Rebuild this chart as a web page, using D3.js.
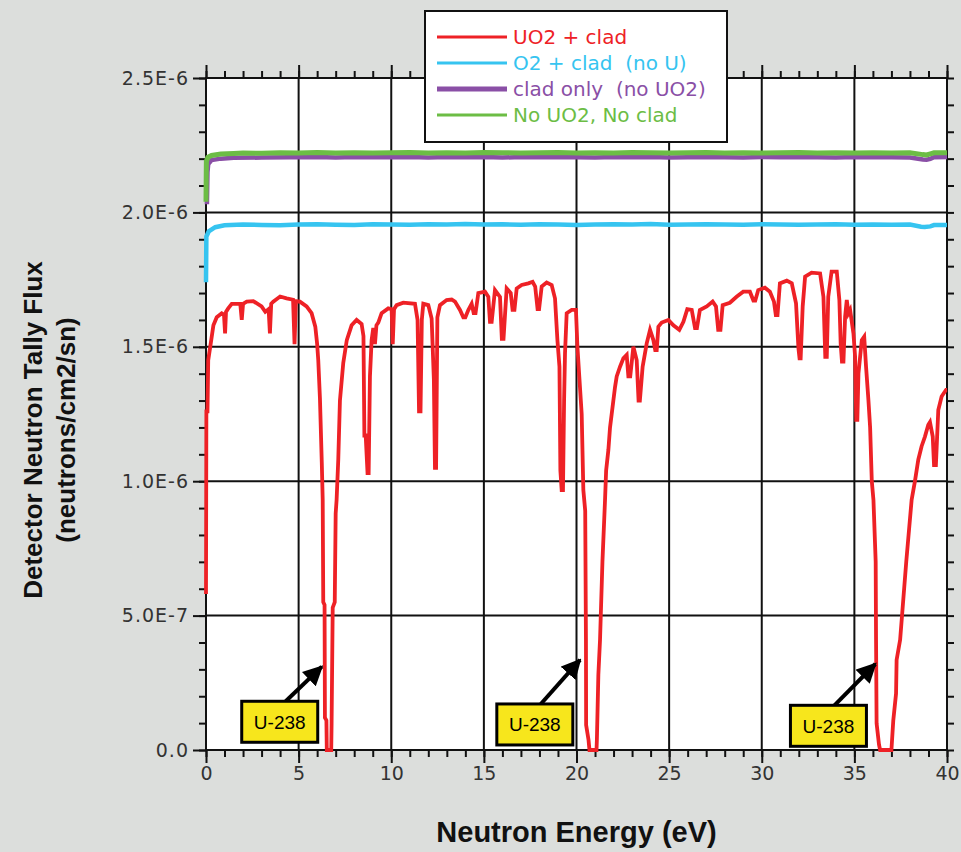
<!DOCTYPE html>
<html>
<head>
<meta charset="utf-8">
<script src="https://cdn.jsdelivr.net/npm/d3@7"></script>
<style>
  html, body { margin: 0; padding: 0; background: #dcdedc; }
  svg { display: block; }
  text { white-space: pre; }
</style>
</head>
<body>
<svg id="chart" width="961" height="852"></svg>
<script>
// ---- axis ticks ----
const energyTicks = [0, 5, 10, 15, 20, 25, 30, 35, 40];
const energyLabels = ["0", "5", "10", "15", "20", "25", "30", "35", "40"];
const fluxTicks = [0, 0.5, 1.0, 1.5, 2.0, 2.5];            // ×1e-6
const fluxLabels = ["0.0", "5.0E-7", "1.0E-6", "1.5E-6", "2.0E-6", "2.5E-6"];

// ---- series (energy in eV, flux in 1e-6 neutrons/cm2/sn) ----
const seriesNames = ["UO2 + clad", "O2 + clad  (no U)", "clad only  (no UO2)", "No UO2, No clad"];
const seriesColors = ["#ee2126", "#36c4f0", "#8a4fa6", "#6cbd45"];

const uo2CladEnergy = [0,0.02,0.08,0.12,0.25,0.4,0.58,0.85,0.97,1.03,1.08,1.2,1.39,1.85,1.93,2.0,2.2,2.55,3.0,3.2,3.38,3.45,3.52,3.63,4.0,4.35,4.7,4.78,4.85,5.07,5.43,5.7,5.9,6.0,6.06,6.15,6.25,6.3,6.33,6.4,6.42,6.5,6.52,6.76,6.78,6.84,6.95,7.0,7.05,7.14,7.23,7.41,7.6,7.86,8.13,8.4,8.5,8.55,8.62,8.72,8.78,8.85,8.94,9.03,9.12,9.2,9.3,9.48,9.84,10.02,10.08,10.15,10.29,10.65,11.28,11.42,11.5,11.58,11.65,11.73,12.0,12.18,12.3,12.36,12.42,12.49,12.63,12.99,13.26,13.44,13.71,13.89,14.0,14.16,14.34,14.45,14.55,14.7,15.06,15.24,15.33,15.42,15.6,15.87,15.97,16.06,16.23,16.45,16.55,16.65,16.77,17.04,17.4,17.63,17.77,17.9,17.98,18.12,18.39,18.66,18.84,18.97,19.08,19.13,19.2,19.27,19.33,19.38,19.47,19.74,19.97,20.05,20.15,20.28,20.37,20.47,20.51,20.52,20.65,20.7,21.08,21.1,21.18,21.27,21.4,21.54,21.6,21.72,21.81,21.9,21.99,22.08,22.17,22.35,22.53,22.71,22.8,22.9,23.07,23.25,23.35,23.42,23.57,23.79,23.97,24.15,24.25,24.33,24.42,24.6,24.96,25.23,25.55,25.77,25.98,26.22,26.4,26.5,26.66,27.03,27.35,27.53,27.65,27.77,27.89,28.28,28.64,29.0,29.36,29.55,29.65,29.81,30.17,30.44,30.66,30.76,30.85,30.98,31.35,31.62,31.85,31.98,32.04,32.1,32.21,32.34,32.69,33.15,33.33,33.43,33.51,33.59,33.77,34.05,34.19,34.26,34.33,34.41,34.5,34.59,34.68,34.77,34.95,35.04,35.1,35.16,35.22,35.4,35.53,35.63,35.76,35.85,35.94,36.03,36.15,36.17,36.2,36.33,36.39,37.0,37.1,37.25,37.28,37.47,37.8,38.09,38.27,38.45,38.63,38.81,38.99,39.08,39.23,39.3,39.4,39.53,39.71,39.95,40];
const uo2CladFlux = [0.58,1.26,1.26,1.45,1.51,1.58,1.61,1.625,1.62,1.55,1.63,1.643,1.66,1.66,1.60,1.66,1.668,1.67,1.65,1.63,1.64,1.55,1.66,1.668,1.687,1.68,1.675,1.51,1.67,1.668,1.65,1.625,1.575,1.51,1.45,1.31,1.07,0.93,0.55,0.54,0.12,0.11,0,0,0.1,0.53,0.55,0.88,0.93,1.08,1.3,1.44,1.525,1.58,1.6,1.585,1.54,1.17,1.17,1.03,1.03,1.39,1.525,1.57,1.51,1.58,1.59,1.625,1.643,1.64,1.51,1.64,1.655,1.664,1.66,1.6,1.26,1.26,1.6,1.66,1.655,1.605,1.38,1.05,1.05,1.61,1.655,1.674,1.676,1.668,1.637,1.61,1.61,1.637,1.66,1.625,1.625,1.70,1.705,1.686,1.593,1.593,1.711,1.686,1.53,1.53,1.717,1.70,1.637,1.637,1.717,1.73,1.736,1.742,1.724,1.64,1.64,1.724,1.739,1.73,1.68,1.525,1.426,1.04,0.967,0.967,1.3,1.476,1.625,1.637,1.637,1.5,1.39,1.25,0.967,0.89,0.41,0.093,0.037,0,0,0.037,0.28,0.41,0.7,0.93,1.04,1.116,1.2,1.25,1.3,1.35,1.39,1.426,1.457,1.47,1.39,1.39,1.5,1.45,1.30,1.30,1.426,1.513,1.563,1.525,1.488,1.488,1.575,1.59,1.60,1.58,1.563,1.593,1.64,1.637,1.57,1.57,1.637,1.65,1.668,1.65,1.563,1.563,1.655,1.664,1.686,1.705,1.705,1.672,1.672,1.711,1.72,1.705,1.668,1.618,1.618,1.736,1.746,1.736,1.662,1.495,1.457,1.457,1.65,1.761,1.776,1.773,1.686,1.463,1.463,1.686,1.78,1.78,1.674,1.513,1.445,1.445,1.612,1.674,1.625,1.637,1.55,1.463,1.228,1.228,1.4,1.525,1.538,1.426,1.30,1.2,1.0,0.93,0.7,0.41,0.099,0.02,0,0,0.11,0.21,0.335,0.41,0.7,0.93,1.0,1.08,1.13,1.166,1.21,1.22,1.166,1.06,1.06,1.265,1.315,1.34,1.34];

const o2CladEnergy = [0,0.02,0.15,0.5,1,2,3,4,5,6,7,8,9,10,11,12,13,14,15,16,17,18,19,20,21,22,23,24,25,26,27,28,29,30,31,32,33,34,35,36,37,38,38.6,38.8,39.1,39.3,40];
const o2CladFlux = [1.74,1.91,1.93,1.945,1.952,1.955,1.953,1.952,1.955,1.956,1.954,1.953,1.956,1.955,1.954,1.956,1.955,1.957,1.955,1.956,1.954,1.956,1.955,1.953,1.955,1.956,1.955,1.957,1.954,1.955,1.956,1.955,1.954,1.956,1.955,1.954,1.955,1.956,1.954,1.955,1.954,1.955,1.947,1.946,1.948,1.953,1.953];

const cladOnlyEnergy = [0.05,0.08,0.12,0.3,0.8,1.5,3,4.5,6,7,8,9,10,11,12,13,14,15,16,17,18,19,20,21,22,23,24,25,26,27,28,29,30,31,32,33,34,35,36,37,38,38.7,38.9,39.1,39.3,40];
const cladOnlyFlux = [2.03,2.15,2.18,2.195,2.2,2.203,2.204,2.205,2.206,2.204,2.206,2.205,2.205,2.206,2.204,2.206,2.205,2.206,2.204,2.206,2.205,2.206,2.205,2.204,2.206,2.205,2.206,2.204,2.205,2.206,2.205,2.204,2.206,2.205,2.206,2.205,2.204,2.206,2.205,2.205,2.204,2.197,2.196,2.199,2.205,2.206];

const noCladEnergy = [0,0.02,0.1,0.3,0.8,1.5,2,3,4,5,6,7,8,9,10,11,12,13,14,15,16,17,18,19,20,21,22,23,24,25,26,27,28,29,30,31,32,33,34,35,36,37,38,38.7,38.9,39.1,39.3,40];
const noCladFlux = [2.04,2.19,2.205,2.212,2.217,2.219,2.221,2.22,2.222,2.221,2.223,2.221,2.222,2.221,2.222,2.223,2.221,2.222,2.221,2.223,2.222,2.221,2.222,2.223,2.221,2.222,2.221,2.223,2.222,2.221,2.222,2.223,2.221,2.222,2.221,2.222,2.223,2.221,2.222,2.221,2.222,2.221,2.222,2.215,2.214,2.218,2.222,2.222];

// ---- resonance call-outs: arrow tip (E, flux) and label anchor (E, flux) ----
const calloutLabels = ["U-238", "U-238", "U-238"];
const calloutTipEnergy = [6.25, 20.19, 36.13];
const calloutTipFlux = [0.31, 0.335, 0.32];
const calloutBoxEnergy = [3.98, 17.75, 33.6];
const calloutBoxFlux = [0.105, 0.095, 0.09];

// ---- layout ----
const margin = { left: 206, top: 78, right: 961 - 947, bottom: 852 - 750 };
const W = 961, H = 852;
const plotW = W - margin.left - margin.right;
const plotH = H - margin.top - margin.bottom;

const x = d3.scaleLinear().domain([0, 40]).range([0, plotW]);
const y = d3.scaleLinear().domain([0, 2.5]).range([plotH, 0]);

const svg = d3.select("#chart");
svg.append("rect").attr("width", W).attr("height", H).attr("fill", "#dcdedc");

const g = svg.append("g").attr("transform", `translate(${margin.left},${margin.top})`);
g.append("rect").attr("width", plotW).attr("height", plotH).attr("fill", "#ffffff");

const minorE = d3.range(0, 41, 1);
const minorF = d3.range(0, 26, 1).map(d => d / 10);

// grid
g.append("g").selectAll("line").data(energyTicks.slice(1, -1)).join("line")
  .attr("x1", d => x(d)).attr("x2", d => x(d)).attr("y1", 0).attr("y2", plotH)
  .attr("stroke", "#111").attr("stroke-width", 2);
g.append("g").selectAll("line").data(fluxTicks.slice(1, -1)).join("line")
  .attr("y1", d => y(d)).attr("y2", d => y(d)).attr("x1", 0).attr("x2", plotW)
  .attr("stroke", "#111").attr("stroke-width", 2);

// axes (ticks point outward on all four sides)
function styleAxis(sel) {
  sel.select(".domain").remove();
  sel.selectAll(".tick line").attr("stroke", "#111").attr("stroke-width", 2);
}
const bottomMinor = g.append("g").attr("transform", `translate(0,${plotH})`)
  .call(d3.axisBottom(x).tickValues(minorE).tickSize(7).tickFormat(""));
styleAxis(bottomMinor);
const bottomMajor = g.append("g").attr("transform", `translate(0,${plotH})`)
  .call(d3.axisBottom(x).tickValues(energyTicks).tickSize(13).tickPadding(2)
    .tickFormat((d, i) => energyLabels[i]));
styleAxis(bottomMajor);
bottomMajor.selectAll("text").attr("font-family", "DejaVu Sans").attr("font-size", 19)
  .attr("fill", "#333").attr("dy", "0.8em");

const topMinor = g.append("g").call(d3.axisTop(x).tickValues(minorE).tickSize(7).tickFormat(""));
styleAxis(topMinor);
const topMajor = g.append("g").call(d3.axisTop(x).tickValues(energyTicks).tickSize(13).tickFormat(""));
styleAxis(topMajor);

const leftMinor = g.append("g").call(d3.axisLeft(y).tickValues(minorF).tickSize(7).tickFormat(""));
styleAxis(leftMinor);
const leftMajor = g.append("g").call(d3.axisLeft(y).tickValues(fluxTicks).tickSize(13).tickPadding(4)
  .tickFormat((d, i) => fluxLabels[i]));
styleAxis(leftMajor);
leftMajor.selectAll("text").attr("font-family", "DejaVu Sans").attr("font-size", 19)
  .attr("fill", "#333").attr("letter-spacing", 1);

const rightMinor = g.append("g").attr("transform", `translate(${plotW},0)`)
  .call(d3.axisRight(y).tickValues(minorF).tickSize(7).tickFormat(""));
styleAxis(rightMinor);

// plot frame
g.append("rect").attr("width", plotW).attr("height", plotH)
  .attr("fill", "none").attr("stroke", "#111").attr("stroke-width", 2);

// series lines
const series = [
  { e: uo2CladEnergy, f: uo2CladFlux, w: 3.8 },
  { e: o2CladEnergy, f: o2CladFlux, w: 4.5 },
  { e: cladOnlyEnergy, f: cladOnlyFlux, w: 4.5 },
  { e: noCladEnergy, f: noCladFlux, w: 5 }
];
const line = d3.line().x(d => x(d[0])).y(d => y(d[1]));
const lines = g.append("g");
series.forEach((s, i) => {
  const pts = s.e.map((e, j) => [e, s.f[j]]);
  lines.append("path").datum(pts).attr("d", line)
    .attr("fill", "none").attr("stroke", seriesColors[i])
    .attr("stroke-width", s.w).attr("stroke-linejoin", "miter");
});

// call-outs
const defs = svg.append("defs");
defs.append("marker").attr("id", "head").attr("viewBox", "0 0 10 10")
  .attr("refX", 9).attr("refY", 5).attr("markerWidth", 5).attr("markerHeight", 5)
  .attr("orient", "auto").attr("markerUnits", "strokeWidth")
  .append("path").attr("d", "M0,0 L10,5 L0,10 Z").attr("fill", "#000");

const callouts = g.append("g");
calloutLabels.forEach((lab, i) => {
  const bx = x(calloutBoxEnergy[i]), by = y(calloutBoxFlux[i]);
  const bw = 76, bh = 41;
  callouts.append("line")
    .attr("x1", bx + 6).attr("y1", by - bh / 2)
    .attr("x2", x(calloutTipEnergy[i])).attr("y2", y(calloutTipFlux[i]))
    .attr("stroke", "#000").attr("stroke-width", 4).attr("marker-end", "url(#head)");
  callouts.append("rect")
    .attr("x", bx - bw / 2).attr("y", by - bh / 2).attr("width", bw).attr("height", bh)
    .attr("fill", "#f7e61c").attr("stroke", "#000").attr("stroke-width", 3);
  callouts.append("text").attr("x", bx).attr("y", by).attr("dy", "0.36em")
    .attr("text-anchor", "middle").attr("font-family", "Liberation Sans").attr("font-size", 19)
    .attr("fill", "#000").text(lab);
});

// legend
const legend = svg.append("g").attr("transform", "translate(425,11)");
legend.append("rect").attr("width", 302).attr("height", 131)
  .attr("fill", "#ffffff").attr("stroke", "#111").attr("stroke-width", 2);
const legendWidths = [3, 3, 5, 3];
seriesNames.forEach((name, i) => {
  const ly = 26 + i * 26;
  legend.append("line").attr("x1", 12).attr("x2", 82).attr("y1", ly).attr("y2", ly)
    .attr("stroke", seriesColors[i]).attr("stroke-width", legendWidths[i]);
  legend.append("text").attr("x", 88).attr("y", ly).attr("dy", "0.35em")
    .attr("font-family", "DejaVu Sans").attr("font-size", 20)
    .attr("fill", seriesColors[i]).text(name);
});

// axis titles
svg.append("text").attr("x", margin.left + plotW / 2).attr("y", 842)
  .attr("text-anchor", "middle").attr("font-family", "Liberation Sans").attr("font-weight", "bold")
  .attr("font-size", 29).attr("fill", "#111").text("Neutron Energy (eV)");
const yTitle = svg.append("g").attr("transform", "translate(0,430) rotate(-90)");
yTitle.append("text").attr("x", 0).attr("y", 42).attr("text-anchor", "middle")
  .attr("font-family", "Liberation Sans").attr("font-weight", "bold").attr("font-size", 26)
  .attr("fill", "#111").text("Detector Neutron Tally Flux");
yTitle.append("text").attr("x", 0).attr("y", 75).attr("text-anchor", "middle")
  .attr("font-family", "Liberation Sans").attr("font-weight", "bold").attr("font-size", 26)
  .attr("fill", "#111").text("(neutrons/cm2/sn)");
</script>
</body>
</html>
